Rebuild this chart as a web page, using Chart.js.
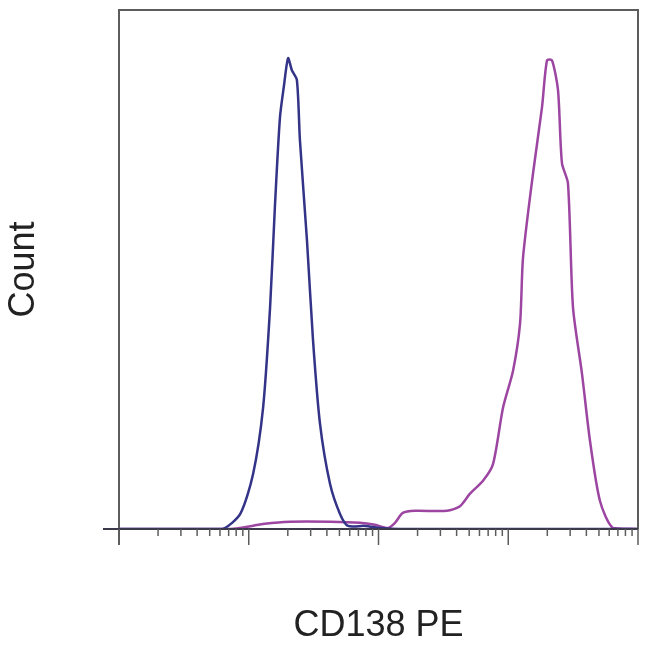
<!DOCTYPE html>
<html>
<head>
<meta charset="utf-8">
<script src="https://cdn.jsdelivr.net/npm/chart.js@4/dist/chart.umd.min.js"></script>
<style>
  html, body { margin: 0; padding: 0; background: #fff; }
  #chart { display: block; }
</style>
</head>
<body>
<canvas id="chart" width="650" height="650"></canvas>
<script>
// CD138 PE fluorescence (log scale) and event counts (% of axis height)
var isotypeX = [1, 4.2, 6.3, 8.6, 10.8, 12.9, 14.6, 15.9, 17.4, 18.7, 20.1, 21.5, 23.5, 24.8, 28.1, 31.3, 35.4, 42.3, 50.5, 58.2, 78.7, 103, 146, 10000];
var isotypeY = [0, 0, 0, 2.9, 10.6, 23.4, 42.7, 62.0, 79.3, 85.5, 90.7, 88.4, 86.5, 74.9, 55.6, 36.3, 20.3, 8.7, 2.9, 0.6, 0.6, 0.2, 0, 0];

var cd138X = [1, 7.2, 13.3, 20.8, 42.3, 72, 94, 118, 134, 154, 191, 337, 425, 507, 639, 763, 912, 1089, 1233, 1300, 1552, 1821, 1990, 2174, 2417, 2594, 2885, 3155, 3702, 4265, 5093, 6410, 9825];
var cd138Y = [0, 0, 1.0, 1.4, 1.4, 1.2, 0.8, 0.2, 1.2, 3.1, 3.5, 3.5, 4.4, 6.8, 9.3, 12.5, 23.4, 30.5, 39.6, 52.3, 68.5, 81.3, 90.3, 90.3, 84.6, 70.5, 66.6, 42.7, 29.9, 17.0, 5.4, 0.2, 0];

var majorTicks = [1, 10, 100, 1000, 10000];
var minorSteps = [2, 3, 4, 5, 6, 7, 8, 9];

var xLabel = 'CD138 PE';
var yLabel = 'Count';

function toPoints(xs, ys) {
  return xs.map(function(x, i){ return {x: x, y: ys[i]}; });
}

// frame around plot + log tick marks under the axis
var framePlugin = {
  id: 'frame',
  afterDatasetsDraw: function(chart) {
    var ctx = chart.ctx;
    var a = chart.chartArea;
    var xs = chart.scales.x;
    ctx.save();
    ctx.strokeStyle = '#5c5c5c';
    ctx.lineWidth = 2;
    ctx.beginPath();
    ctx.moveTo(a.left, a.bottom + 16);
    ctx.lineTo(a.left, a.top);
    ctx.lineTo(a.right, a.top);
    ctx.lineTo(a.right, a.bottom);
    ctx.stroke();

    ctx.strokeStyle = '#3a3a4a';
    ctx.beginPath();
    ctx.moveTo(a.left - 16, a.bottom);
    ctx.lineTo(a.right, a.bottom);
    ctx.stroke();

    ctx.strokeStyle = '#5c5c5c';
    ctx.lineWidth = 1.5;
    majorTicks.forEach(function(t, i){
      var px = xs.getPixelForValue(t);
      ctx.beginPath();
      ctx.moveTo(px, a.bottom);
      ctx.lineTo(px, a.bottom + 16);
      ctx.stroke();
      if (i < majorTicks.length - 1) {
        minorSteps.forEach(function(m){
          var mx = xs.getPixelForValue(t * m);
          ctx.beginPath();
          ctx.moveTo(mx, a.bottom);
          ctx.lineTo(mx, a.bottom + 7);
          ctx.stroke();
        });
      }
    });
    ctx.restore();
  }
};

var ctx = document.getElementById('chart').getContext('2d');
new Chart(ctx, {
  type: 'line',
  data: {
    datasets: [{
      label: 'Isotype',
      data: toPoints(isotypeX, isotypeY),
      borderColor: '#333388',
      borderWidth: 2.5,
      pointRadius: 0,
      tension: 0.25,
      fill: false
    }, {
      label: 'CD138',
      data: toPoints(cd138X, cd138Y),
      borderColor: '#9c46a2',
      borderWidth: 2.5,
      pointRadius: 0,
      tension: 0.25,
      fill: false
    }]
  },
  options: {
    responsive: false,
    animation: false,
    devicePixelRatio: 1,
    layout: { padding: { top: 10, right: 12, left: 0, bottom: 0 } },
    plugins: {
      legend: { display: false },
      tooltip: { enabled: false }
    },
    scales: {
      x: {
        type: 'logarithmic',
        min: 1,
        max: 10000,
        grid: { display: false },
        border: { display: false },
        ticks: { display: false },
        title: {
          display: true,
          text: xLabel,
          color: '#222',
          font: { family: 'Liberation Sans, Arial, sans-serif', size: 36, lineHeight: 1.2 },
          padding: { top: 0, bottom: 2 }
        },
        afterFit: function(scale){ scale.height = 121; }
      },
      y: {
        min: 0,
        max: 100,
        grid: { display: false },
        border: { display: false },
        ticks: { display: false },
        title: {
          display: true,
          text: yLabel,
          color: '#222',
          font: { family: 'Liberation Sans, Arial, sans-serif', size: 36, lineHeight: 1.2 },
          padding: { top: 2, bottom: 0 }
        },
        afterFit: function(scale){ scale.width = 119; }
      }
    }
  },
  plugins: [framePlugin]
});
</script>
</body>
</html>
